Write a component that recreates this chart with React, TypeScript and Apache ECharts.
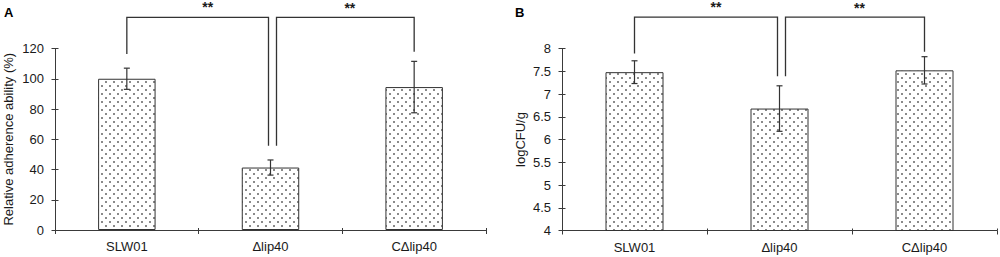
import React, { useEffect, useRef } from "react";
import * as echarts from "echarts";

const categories = ["SLW01", "Δlip40", "CΔlip40"];

// Panel A: relative adherence ability (%)
const adherenceMean = [100, 41.3, 94.5];
const adherenceErr = [7, 5, 17];
const adherenceAxis = { min: 0, max: 120, interval: 20 };
// brackets: [fromIdx, toIdx, leftLegBottom, rightLegBottom, topValue]
const adherenceBrackets = [
  [0, 1, 116.3, 55.7, 140.6],
  [1, 2, 55.7, 117.9, 140.6],
];

// Panel B: logCFU/g
const cfuMean = [7.48, 6.68, 7.52];
const cfuErr = [0.25, 0.5, 0.3];
const cfuAxis = { min: 4, max: 8, interval: 0.5 };
const cfuBrackets = [
  [0, 1, 7.89, 7.39, 8.69],
  [1, 2, 7.39, 7.93, 8.69],
];

const sigLabels = ["**", "**"];

const FONT = "Arial, 'Liberation Sans', sans-serif";
const LINE = "#3a3a3a";
const TEXT = "#1a1a1a";

export default function App() {
  const ref = useRef<HTMLDivElement>(null);

  useEffect(() => {
    document.body.style.margin = "0";
    if (!ref.current) return;
    const chart = echarts.init(ref.current, undefined, { renderer: "svg" });

    const cv = document.createElement("canvas");
    cv.width = 8;
    cv.height = 8;
    const ctx = cv.getContext("2d")!;
    ctx.fillStyle = "#ffffff";
    ctx.fillRect(0, 0, 8, 8);
    ctx.fillStyle = "#8a8a8a";
    ctx.fillRect(1, 1, 2, 2);
    ctx.fillRect(5, 5, 2, 2);
    const pattern = { image: cv, repeat: "repeat" } as any;

    const grids = [
      { left: 55, top: 48.5, width: 431, height: 181.5 },
      { left: 562, top: 48.5, width: 435, height: 182 },
    ];

    const xAxes: any[] = [];
    const yAxes: any[] = [];
    const axesY = [adherenceAxis, cfuAxis];
    const names = ["Relative adherence ability (%)", "logCFU/g"];
    const nameGaps = [40, 35];
    [0, 1].forEach((g) => {
      xAxes.push({
        type: "category",
        gridIndex: g,
        data: categories,
        position: "bottom",
        axisLine: { show: true, lineStyle: { color: LINE, width: 1 } },
        axisTick: { show: true, length: 4, lineStyle: { color: LINE } },
        axisLabel: { margin: 10, fontSize: 13, color: TEXT, fontFamily: FONT },
        splitLine: { show: false },
      });
      xAxes.push({
        type: "category",
        gridIndex: g,
        data: categories,
        position: "bottom",
        axisLine: { show: false },
        axisTick: { show: true, inside: true, length: 2, lineStyle: { color: LINE } },
        axisLabel: { show: false },
        splitLine: { show: false },
      });
      yAxes.push({
        type: "value",
        gridIndex: g,
        min: axesY[g].min,
        max: axesY[g].max,
        interval: axesY[g].interval,
        position: "left",
        name: names[g],
        nameLocation: "middle",
        nameGap: nameGaps[g],
        nameTextStyle: { fontSize: 13, color: TEXT, fontFamily: FONT },
        axisLine: { show: true, lineStyle: { color: LINE, width: 1 } },
        axisTick: { show: true, length: 3.5, lineStyle: { color: LINE } },
        axisLabel: { margin: 11, fontSize: 13, color: TEXT, fontFamily: FONT },
        splitLine: { show: false },
      });
      yAxes.push({
        type: "value",
        gridIndex: g,
        min: axesY[g].min,
        max: axesY[g].max,
        interval: axesY[g].interval,
        position: "left",
        axisLine: { show: false },
        axisTick: { show: true, inside: true, length: 3.5, lineStyle: { color: LINE } },
        axisLabel: { show: false },
        splitLine: { show: false },
      });
    });

    const leftShift = [0, 6];
    const rightShift = [-2, 0];
    const labelShift = [10, 4.5];
    const labelDy = [0, 1];

    const makeBars = (g: number, means: number[]) => ({
      type: "bar",
      xAxisIndex: g * 2,
      yAxisIndex: g * 2,
      barWidth: "40%",
      data: means,
      itemStyle: { color: pattern, borderColor: "#333", borderWidth: 1 },
      silent: true,
    });

    const makeErr = (g: number, means: number[], errs: number[]) => ({
      type: "custom",
      xAxisIndex: g * 2,
      yAxisIndex: g * 2,
      clip: false,
      silent: true,
      z: 5,
      data: means.map((m, i) => [i, m, errs[i]]),
      encode: { x: 0, y: 1 },
      renderItem: (params: any, api: any) => {
        const x = api.value(0);
        const m = api.value(1);
        const e = api.value(2);
        const t = api.coord([x, m + e]);
        const b = api.coord([x, m - e]);
        const st = { stroke: "#333", lineWidth: 1.2 };
        return {
          type: "group",
          children: [
            { type: "line", shape: { x1: t[0], y1: t[1], x2: b[0], y2: b[1] }, style: st },
            { type: "line", shape: { x1: t[0] - 3, y1: t[1], x2: t[0] + 3, y2: t[1] }, style: st },
            { type: "line", shape: { x1: b[0] - 3, y1: b[1], x2: b[0] + 3, y2: b[1] }, style: st },
          ],
        };
      },
    });

    const makeBrackets = (g: number, brackets: number[][]) => ({
      type: "custom",
      xAxisIndex: g * 2,
      yAxisIndex: g * 2,
      clip: false,
      silent: true,
      data: brackets,
      encode: { x: 0, y: 4 },
      renderItem: (params: any, api: any) => {
        const i = params.dataIndex;
        const from = api.value(0);
        const to = api.value(1);
        const legL = api.value(2);
        const legR = api.value(3);
        const top = api.value(4);
        const pL = api.coord([from, legL]);
        const pR = api.coord([to, legR]);
        const pT = api.coord([from, top]);
        const xL = pL[0] + leftShift[i];
        const xR = pR[0] + rightShift[i];
        return {
          type: "group",
          children: [
            {
              type: "polyline",
              shape: { points: [[xL, pL[1]], [xL, pT[1]], [xR, pT[1]], [xR, pR[1]]] },
              style: { stroke: "#333", lineWidth: 1.3, fill: "none" },
            },
            {
              type: "text",
              style: {
                text: sigLabels[i],
                x: (xL + xR) / 2 + labelShift[i],
                y: pT[1] - 10 + labelDy[i],
                textAlign: "center",
                textVerticalAlign: "middle",
                font: `bold 14px ${FONT}`,
                fill: TEXT,
              },
            },
          ],
        };
      },
    });

    chart.setOption({
      animation: false,
      grid: grids,
      xAxis: xAxes,
      yAxis: yAxes,
      graphic: [
        { type: "text", left: 4, top: 6, style: { text: "A", font: `bold 13px ${FONT}`, fill: "#000" } },
        { type: "text", left: 515, top: 6, style: { text: "B", font: `bold 13px ${FONT}`, fill: "#000" } },
      ],
      series: [
        makeBars(0, adherenceMean),
        makeErr(0, adherenceMean, adherenceErr),
        makeBrackets(0, adherenceBrackets),
        makeBars(1, cfuMean),
        makeErr(1, cfuMean, cfuErr),
        makeBrackets(1, cfuBrackets),
      ],
    });

    return () => chart.dispose();
  }, []);

  return <div ref={ref} style={{ width: 1000, height: 257 }} />;
}
